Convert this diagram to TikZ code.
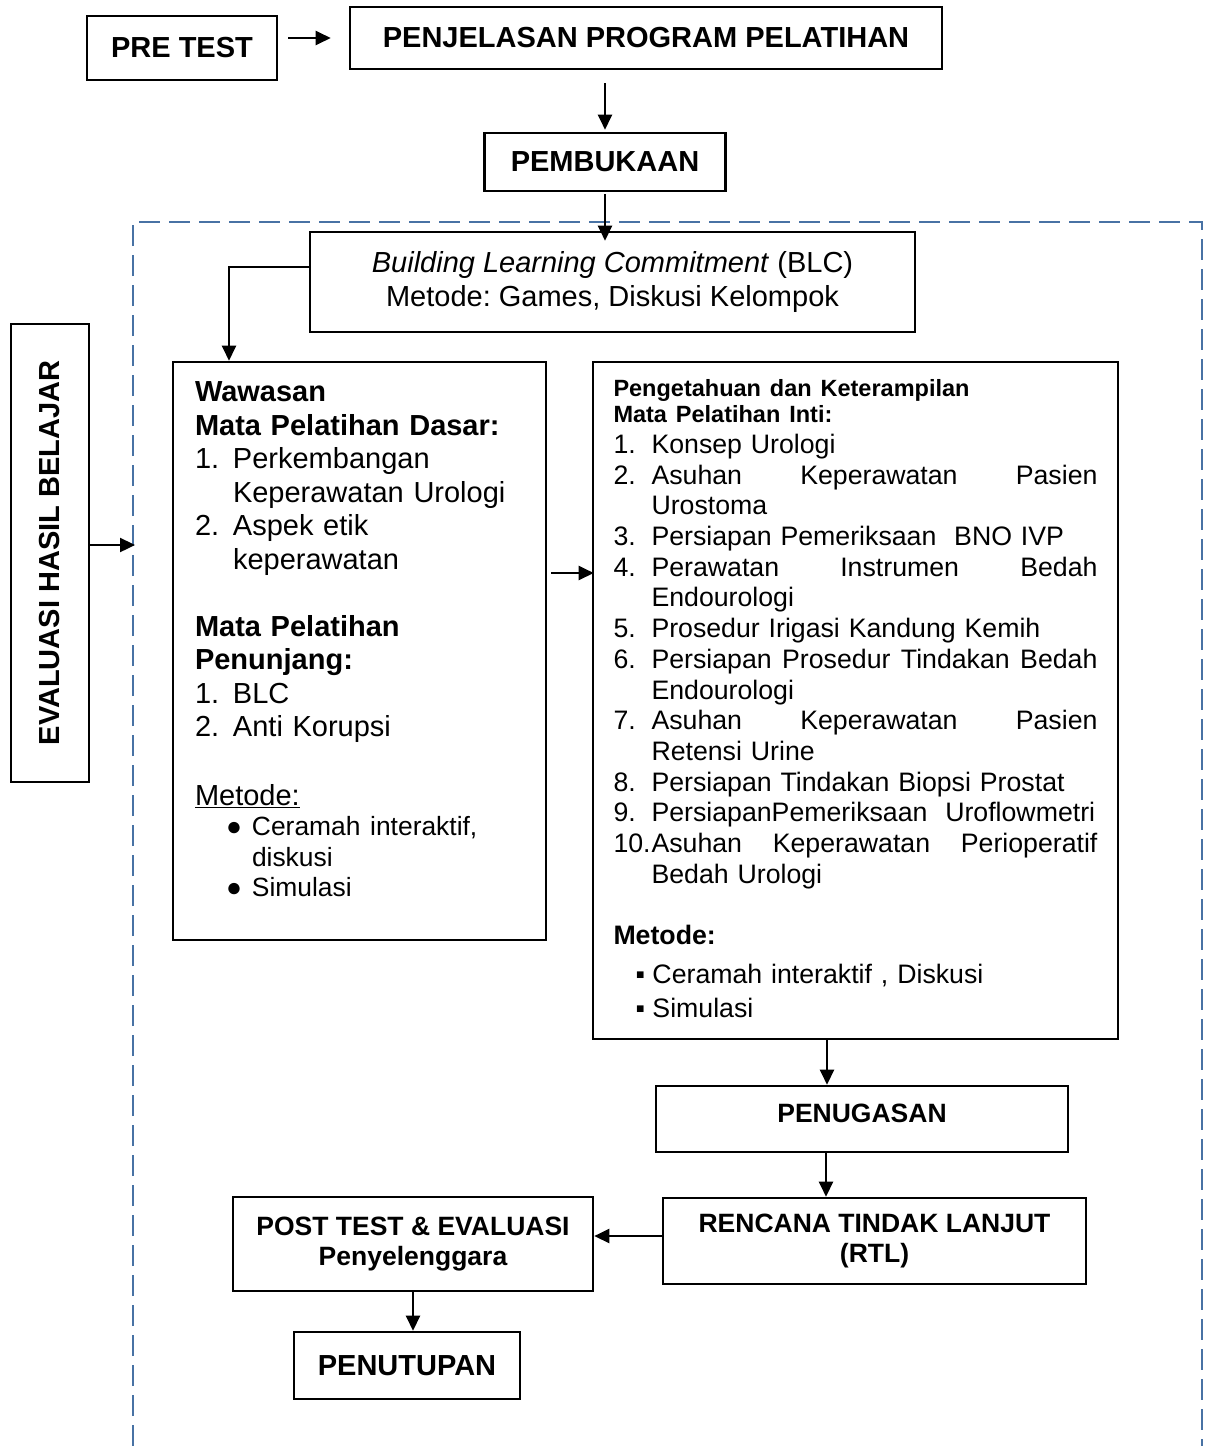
\documentclass[tikz,border=0pt]{standalone}
\usepackage{fontspec}
\setmainfont{Liberation Sans}
\usepackage{xcolor}
\usepackage{tikz}
\usetikzlibrary{arrows.meta}

\definecolor{frameblue}{RGB}{72,114,164}
\newcommand{\fbody}{\fontsize{29pt}{33.5pt}\selectfont}
\newcommand{\fitem}{\fontsize{26.7pt}{30.7pt}\selectfont}
\newcommand{\lnum}[2]{\makebox[38pt][l]{#1}#2}
\newcommand{\dotitem}[1]{\makebox[57pt][l]{\hspace*{31pt}●}#1}
\newcommand{\sqitem}[1]{\makebox[39pt][l]{\hspace*{22pt}▪}#1}
\newcommand{\padbottom}[1]{\par\vspace*{#1}\nointerlineskip\hbox{}}

\begin{document}
\frenchspacing
\begin{tikzpicture}[x=1pt, y=-1pt,
  box/.style={draw, line width=2.6pt, inner sep=0pt, align=center, fill=white,
              font=\bfseries\fontsize{29pt}{33pt}\selectfont},
  smallbox/.style={box, font=\bfseries\fontsize{26.5pt}{30.5pt}\selectfont},
  listbox/.style={draw, line width=2.6pt, inner ysep=0pt, align=left, fill=white},
  arr/.style={-{Triangle[length=15pt,width=14pt]}, line width=2.4pt},
  dashframe/.style={draw=frameblue, line width=2.6pt, dash pattern=on 21pt off 9pt},
]
  \useasboundingbox (0,0) rectangle (1206,1446);
  % Bingkai putus-putus
  \draw[dashframe] (133,1446) -- (133,222) -- (1202,222) -- (1202,1446);
  % Baris atas
  \node[box, minimum width=190pt, minimum height=64pt] (pre)  at (182,48)  {PRE TEST};
  \node[box, minimum width=592pt, minimum height=62pt] (penj) at (646,38)  {PENJELASAN PROGRAM PELATIHAN};
  \node[box, minimum width=241pt, minimum height=58pt] (buka) at (605,162) {PEMBUKAAN};
  \node[box, font=\fbody, minimum width=605pt, minimum height=100pt] (blc) at (612.5,282)
    {\textit{Building Learning Commitment} (BLC)\\Metode: Games, Diskusi Kelompok};
  % Evaluasi (tegak)
  \node[box, rotate=90, minimum width=458pt, minimum height=78pt] (eval) at (50,553) {EVALUASI HASIL BELAJAR};
  % Mata pelatihan dasar dan penunjang
  \node[listbox, font=\fbody, text width=329pt, inner xsep=22pt, minimum height=578pt] (dasar) at (359.5,651) {%
    \textbf{Wawasan}\\
    \textbf{Mata Pelatihan Dasar:}\\
    \lnum{1.}{Perkembangan}\\
    \lnum{}{Keperawatan Urologi}\\
    \lnum{2.}{Aspek etik}\\
    \lnum{}{keperawatan}\\[33.5pt]
    \textbf{Mata Pelatihan}\\
    \textbf{Penunjang:}\\
    \lnum{1.}{BLC}\\
    \lnum{2.}{Anti Korupsi}\\[35pt]
    \underline{Metode:}\par
    {\fontsize{26.4pt}{30.5pt}\selectfont
    \dotitem{Ceramah interaktif,}\\
    \makebox[57pt]{}diskusi\\
    \dotitem{Simulasi}\par}
    \padbottom{23pt}};
  % Mata pelatihan inti
  \node[listbox, font=\fitem, text width=484pt, inner xsep=20.5pt, minimum height=677pt] (inti) at (855.5,700.5) {%
    {\fontsize{23.5pt}{26pt}\selectfont\bfseries Pengetahuan dan Keterampilan\\
    Mata Pelatihan Inti:\par}
    \lnum{1.}{Konsep Urologi}\\
    \lnum{2.}{Asuhan\hfill Keperawatan\hfill Pasien}\\
    \lnum{}{Urostoma}\\
    \lnum{3.}{Persiapan Pemeriksaan\ \ BNO IVP}\\
    \lnum{4.}{Perawatan\hfill Instrumen\hfill Bedah}\\
    \lnum{}{Endourologi}\\
    \lnum{5.}{Prosedur Irigasi Kandung Kemih}\\
    \lnum{6.}{Persiapan\hfill Prosedur\hfill Tindakan\hfill Bedah}\\
    \lnum{}{Endourologi}\\
    \lnum{7.}{Asuhan\hfill Keperawatan\hfill Pasien}\\
    \lnum{}{Retensi Urine}\\
    \lnum{8.}{Persiapan Tindakan Biopsi Prostat}\\
    \lnum{9.}{PersiapanPemeriksaan\ \ Uroflowmetri}\\
    \lnum{10.}{Asuhan\hfill Keperawatan\hfill Perioperatif}\\
    \lnum{}{Bedah Urologi}\\[30.7pt]
    \textbf{Metode:}\\[8pt]
    \sqitem{Ceramah interaktif , Diskusi}\\[3pt]
    \sqitem{Simulasi}
    \padbottom{4pt}};
  % Baris bawah
  \node[smallbox, minimum width=412pt, minimum height=66pt, text depth=12pt] (tugas) at (862,1119) {PENUGASAN};
  \node[smallbox, minimum width=423pt, minimum height=86pt] (rtl)   at (874.5,1241) {RENCANA TINDAK LANJUT\\(RTL)};
  \node[smallbox, minimum width=360pt, minimum height=94pt] (post)  at (413,1244)   {POST TEST \& EVALUASI\\Penyelenggara};
  \node[box, minimum width=226pt, minimum height=67pt]      (tutup) at (407,1365.5) {PENUTUPAN};
  % Panah
  \coordinate (blcbend) at (229,267);
  \coordinate (evalin)  at (135,545);
  \draw[arr, shorten <=10pt, shorten >=18pt] (pre.east |- penj.west) -- (penj.west);
  \draw[arr, shorten <=13pt, shorten >=2pt] (penj.south -| buka.north) -- (buka.north);
  \draw[arr, shorten <=2pt, shorten >=-10pt] (buka.south) -- (buka.south |- blc.north);
  \draw[arr] ([yshift=15pt]blc.west) -- (blcbend) -- (blcbend |- dasar.north);
  \draw[arr] (eval.south |- evalin) -- (evalin);
  \draw[arr, shorten <=4pt, shorten >=-2pt] ([yshift=78pt]dasar.east) -- ([yshift=78pt]dasar.east -| inti.west);
  \draw[arr] ([xshift=-28.5pt]inti.south) -- ([xshift=-28.5pt]inti.south |- tugas.north);
  \draw[arr] ([xshift=-36pt]tugas.south) -- ([xshift=-36pt]tugas.south |- rtl.north);
  \draw[arr] ([yshift=5pt]rtl.west) -- ([yshift=5pt]rtl.west -| post.east);
  \draw[arr] (post.south) -- (post.south |- tutup.north);
\end{tikzpicture}
\end{document}
